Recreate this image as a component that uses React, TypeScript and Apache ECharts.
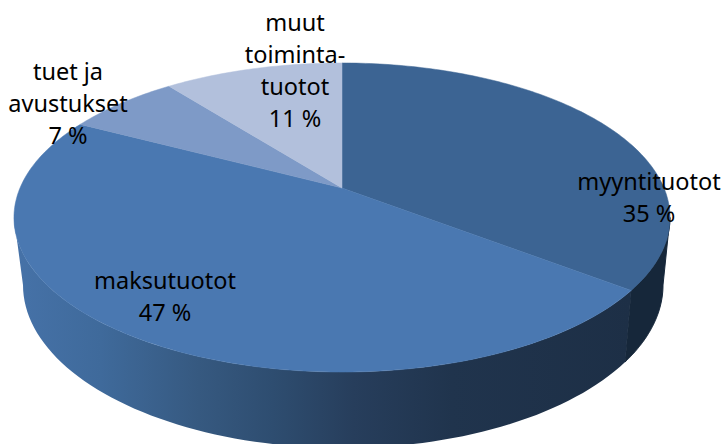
import React, { useEffect, useRef } from "react";
import * as echarts from "echarts";

const categories = ["myyntituotot", "maksutuotot", "tuet ja\navustukset", "muut\ntoiminta-\ntuotot"];
const shares = [35.4, 47.3, 6.7, 10.6];
const sliceColors = ["#3C6493", "#4A78B1", "#7E9AC7", "#B2C0DC"];
const labelCenters = [[649, 197], [165, 296], [68, 103], [295, 70]];

const APEX = [342, 188];
const TOP = { cx: 342, cy: 217.5, rx: 328, ry: 154.5 };
const BOTTOM = { cx: 343, cy: 285, rx: 320, ry: 163 };
const K = 0.191, A = 322, B = 148.9;

const project = (deg: number) => {
  const r = (deg * Math.PI) / 180;
  const u = Math.sin(r), v = -Math.cos(r);
  const w = 1 - K * v;
  return [APEX[0] + (A * u) / w, APEX[1] + (B * v) / w];
};
const ellipseParam = (p: number[]) => Math.atan2((p[1] - TOP.cy) / TOP.ry, (p[0] - TOP.cx) / TOP.rx);
const on = (e: typeof TOP, t: number) => [e.cx + e.rx * Math.cos(t), e.cy + e.ry * Math.sin(t)];

const bounds = (i: number) => {
  const total = shares.reduce((a, b) => a + b, 0);
  const before = shares.slice(0, i).reduce((a, b) => a + b, 0);
  return [(before / total) * 360, ((before + shares[i]) / total) * 360];
};

const wallFills: any[] = [
  "#16273A",
  {
    type: "linear", x: 0, y: 0, x2: 1, y2: 0,
    colorStops: [
      { offset: 0, color: "#4672A8" },
      { offset: 0.14, color: "#3F6A9B" },
      { offset: 0.3, color: "#365980" },
      { offset: 0.42, color: "#2E4D70" },
      { offset: 0.55, color: "#273E5C" },
      { offset: 0.71, color: "#20344D" },
      { offset: 1, color: "#1D2F46" },
    ],
  },
];

export default function App() {
  const ref = useRef<HTMLDivElement>(null);
  useEffect(() => {
    document.body.style.margin = "0";
    const chart = echarts.init(ref.current!, undefined, { renderer: "svg" });
    const rows = shares.map((v, i) => [i, v]);
    chart.setOption({
      animation: false,
      backgroundColor: "#fff",
      series: [
        {
          type: "custom", coordinateSystem: "none", silent: true, data: rows, z: 1,
          renderItem: (_p: any, api: any) => {
            const i = api.value(0);
            if (i > 1) return { type: "group", children: [] };
            const [a, b] = bounds(i);
            const split = ellipseParam(project(i === 0 ? b : a));
            const t0 = i === 0 ? 0 : split;
            const t1 = i === 0 ? split : Math.PI;
            const top: number[][] = [], bot: number[][] = [];
            const n = 80;
            for (let k = 0; k <= n; k++) {
              const t = t0 + ((t1 - t0) * k) / n;
              top.push(on(TOP, t));
              bot.push(on(BOTTOM, t));
            }
            return {
              type: "polygon",
              shape: { points: top.concat(bot.reverse()) },
              style: i === 0
                ? { fill: wallFills[i], stroke: wallFills[i], lineWidth: 1 }
                : { fill: wallFills[i] },
            };
          },
        },
        {
          type: "custom", coordinateSystem: "none", silent: true, data: rows, z: 2,
          renderItem: (_p: any, api: any) => {
            const i = api.value(0);
            const [a, b] = bounds(i);
            const pts = [APEX];
            const n = Math.max(8, Math.round(b - a));
            for (let k = 0; k <= n; k++) pts.push(project(a + ((b - a) * k) / n));
            return {
              type: "polygon",
              shape: { points: pts },
              style: { fill: sliceColors[i], stroke: sliceColors[i], lineWidth: 0.5 },
            };
          },
        },
        {
          type: "custom", coordinateSystem: "none", silent: true, data: rows, z: 3,
          renderItem: (_p: any, api: any) => {
            const i = api.value(0);
            return {
              type: "text",
              x: labelCenters[i][0],
              y: labelCenters[i][1],
              style: {
                text: `${categories[i]}\n${Math.round(api.value(1))} %`,
                fill: "#000",
                font: '23.5px "Noto Sans"',
                lineHeight: 32,
                align: "center",
                verticalAlign: "middle",
              },
            };
          },
        },
      ],
    });
    return () => chart.dispose();
  }, []);
  return <div ref={ref} style={{ position: "fixed", left: 0, top: 0, width: 723, height: 444 }} />;
}
